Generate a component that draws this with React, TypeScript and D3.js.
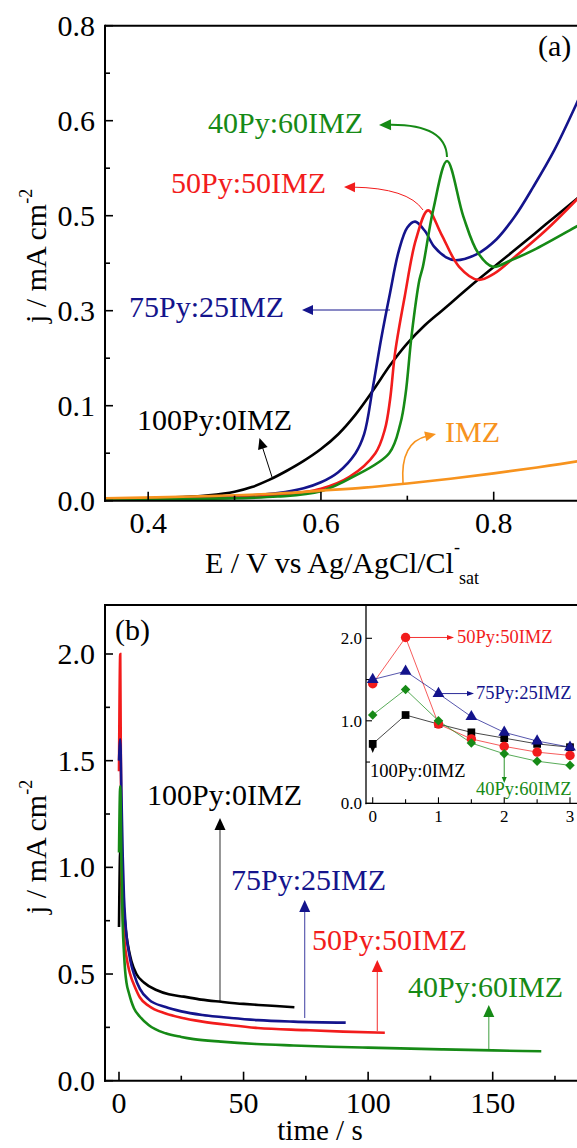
import React from 'react';
import * as d3 from 'd3';

const FONT = '"Liberation Serif", "Times New Roman", Times, serif';
const C_BLACK = '#000000';
const C_BLUE = '#14148c';
const C_RED = '#f21c1c';
const C_GREEN = '#168a16';
const C_ORANGE = '#f7931e';

// ---------- Panel (a): linear sweep ----------
const aXTicks = [0.4, 0.6, 0.8];
const aXTickLabels = ['0.4', '0.6', '0.8'];
const aXMinor = [0.5, 0.7, 0.9];
const aYTicks = [0, 0.16, 0.32, 0.48, 0.64, 0.8];
const aYTickLabels = ['0.0', '0.1', '0.3', '0.5', '0.6', '0.8'];
const aYMinor = [0.08, 0.24, 0.4, 0.56, 0.72];

const aPy100E = [0.35, 0.40, 0.44, 0.47, 0.50, 0.52, 0.54, 0.56, 0.58, 0.60, 0.62, 0.64, 0.66, 0.68, 0.70, 0.72, 0.74, 0.76, 0.78, 0.82, 0.86, 0.90, 0.95];
const aPy100J = [0.003, 0.004, 0.006, 0.009, 0.015, 0.023, 0.035, 0.05, 0.067, 0.087, 0.112, 0.145, 0.185, 0.228, 0.265, 0.295, 0.32, 0.345, 0.37, 0.417, 0.465, 0.513, 0.573];

const aPy75E = [0.35, 0.45, 0.50, 0.55, 0.58, 0.60, 0.62, 0.64, 0.65, 0.66, 0.67, 0.68, 0.69, 0.70, 0.709, 0.72, 0.731, 0.745, 0.756, 0.78, 0.803, 0.825, 0.846, 0.87, 0.896, 0.93];
const aPy75J = [0.002, 0.004, 0.007, 0.013, 0.021, 0.031, 0.048, 0.08, 0.112, 0.19, 0.275, 0.35, 0.42, 0.46, 0.47, 0.455, 0.428, 0.41, 0.405, 0.415, 0.44, 0.48, 0.529, 0.59, 0.669, 0.78];

const aPy50E = [0.35, 0.50, 0.55, 0.60, 0.633, 0.663, 0.674, 0.68, 0.686, 0.697, 0.71, 0.724, 0.739, 0.76, 0.782, 0.80, 0.824, 0.86, 0.896, 0.93];
const aPy50J = [0.003, 0.005, 0.009, 0.02, 0.04, 0.08, 0.12, 0.17, 0.251, 0.344, 0.44, 0.489, 0.45, 0.394, 0.372, 0.382, 0.41, 0.455, 0.507, 0.56];

const aPy40E = [0.35, 0.55, 0.60, 0.637, 0.679, 0.692, 0.698, 0.705, 0.714, 0.718, 0.73, 0.746, 0.765, 0.782, 0.799, 0.82, 0.846, 0.896, 0.93];
const aPy40J = [0.002, 0.007, 0.016, 0.04, 0.08, 0.13, 0.18, 0.279, 0.372, 0.394, 0.49, 0.572, 0.478, 0.417, 0.394, 0.405, 0.422, 0.462, 0.49];

const aImzE = [0.35, 0.45, 0.55, 0.60, 0.65, 0.70, 0.75, 0.80, 0.85, 0.90, 0.95];
const aImzJ = [0.004, 0.007, 0.012, 0.017, 0.022, 0.029, 0.037, 0.046, 0.056, 0.067, 0.08];

// ---------- Panel (b): chronoamperometry ----------
const bXTicks = [0, 50, 100, 150];
const bXMinor = [25, 75, 125, 175];
const bYTicks = [0, 0.5, 1.0, 1.5, 2.0];
const bYTickLabels = ['0.0', '0.5', '1.0', '1.5', '2.0'];
const bYMinor = [0.25, 0.75, 1.25, 1.75];

const bPy100T = [0, 0.5, 1, 1.5, 2, 2.5, 3, 4, 5, 7, 10, 15, 20, 26, 33, 41, 50, 56, 63, 70.4];
const bPy100J = [0.72, 1.08, 0.97, 0.87, 0.80, 0.73, 0.68, 0.61, 0.56, 0.5, 0.46, 0.425, 0.405, 0.394, 0.38, 0.37, 0.36, 0.355, 0.35, 0.344];

const bPy75T = [0, 0.5, 1, 1.5, 2, 2.5, 3, 4, 5, 6, 8.4, 12, 18.7, 25, 33.5, 45, 55.7, 70, 91];
const bPy75J = [1.5, 1.6, 1.33, 1.05, 0.86, 0.755, 0.68, 0.6, 0.54, 0.5, 0.43, 0.38, 0.345, 0.325, 0.308, 0.294, 0.284, 0.277, 0.272];

const bPy50T = [0, 0.5, 1, 1.5, 2, 2.5, 3, 4, 5, 6, 8.4, 12, 18.7, 25, 33.5, 45, 55.7, 75, 90, 106.7];
const bPy50J = [1.45, 2.0, 0.96, 0.78, 0.69, 0.62, 0.58, 0.52, 0.48, 0.45, 0.39, 0.35, 0.315, 0.295, 0.277, 0.26, 0.247, 0.237, 0.23, 0.225];

const bPy40T = [0, 0.5, 1, 1.5, 2, 2.5, 3, 4, 5, 6, 8.4, 12, 18.7, 25, 30, 40.9, 55, 70, 85, 100, 129.6, 150, 169.5];
const bPy40J = [1.07, 1.38, 1.0, 0.73, 0.6, 0.51, 0.46, 0.41, 0.37, 0.34, 0.3, 0.26, 0.222, 0.205, 0.195, 0.183, 0.172, 0.165, 0.159, 0.155, 0.147, 0.142, 0.138];

// ---------- Inset (first 3 s) ----------
const inT = [0, 0.5, 1, 1.5, 2, 2.5, 3];
const inPy100 = [0.72, 1.07, 0.96, 0.86, 0.79, 0.72, 0.68];
const inPy50 = [1.45, 2.01, 0.96, 0.78, 0.69, 0.62, 0.58];
const inPy75 = [1.5, 1.6, 1.33, 1.05, 0.86, 0.755, 0.68];
const inPy40 = [1.07, 1.38, 1.0, 0.73, 0.6, 0.51, 0.46];
const inXTicks = [0, 1, 2, 3];
const inXMinor = [0.5, 1.5, 2.5];
const inYTicks = [0, 1, 2];
const inYTickLabels = ['0.0', '1.0', '2.0'];
const inYMinor = [0.5, 1.5];

// ---------- Scales ----------
const xA = d3.scaleLinear().domain([0.35, 0.8]).range([105, 493.7]);
const yA = d3.scaleLinear().domain([0, 0.8]).range([500.7, 25.7]);
const xB = d3.scaleLinear().domain([0, 150]).range([119, 492.7]);
const yB = d3.scaleLinear().domain([0, 2]).range([1080.7, 654]);
const xI = d3.scaleLinear().domain([0, 3]).range([372.7, 570]);
const yI = d3.scaleLinear().domain([0, 2]).range([803.3, 638.3]);

function zip(xs: number[], ys: number[]): [number, number][] {
  return xs.map((x, i) => [x, ys[i]]);
}

function arrowHead(tx: number, ty: number, fx: number, fy: number, len: number, w: number) {
  const dx = tx - fx, dy = ty - fy;
  const d = Math.sqrt(dx * dx + dy * dy) || 1;
  const ux = dx / d, uy = dy / d;
  const bx = tx - ux * len, by = ty - uy * len;
  const nx = -uy, ny = ux;
  return `M${tx},${ty}L${bx + nx * w / 2},${by + ny * w / 2}L${bx - nx * w / 2},${by - ny * w / 2}Z`;
}

function Arrow({ x1, y1, x2, y2, cx, cy, color, sw, len, w, opacity }: any) {
  const hasCtrl = cx !== undefined;
  const fx = hasCtrl ? cx : x1, fy = hasCtrl ? cy : y1;
  const dx = x2 - fx, dy = y2 - fy;
  const d = Math.sqrt(dx * dx + dy * dy) || 1;
  const ex = x2 - (dx / d) * len * 0.8, ey = y2 - (dy / d) * len * 0.8;
  const p = hasCtrl ? `M${x1},${y1}Q${cx},${cy} ${ex},${ey}` : `M${x1},${y1}L${ex},${ey}`;
  return (
    <g>
      <path d={p} fill="none" stroke={color} strokeWidth={sw} opacity={opacity ?? 1} />
      <path d={arrowHead(x2, y2, fx, fy, len, w)} fill={color} />
    </g>
  );
}

export default function App() {
  const lineA = d3.line<[number, number]>().x(d => xA(d[0])).y(d => yA(d[1])).curve(d3.curveCatmullRom.alpha(0.5));
  const lineB = d3.line<[number, number]>().x(d => xB(d[0])).y(d => yB(d[1])).curve(d3.curveMonotoneX);
  const lineI = d3.line<[number, number]>().x(d => xI(d[0])).y(d => yI(d[1]));

  const aSeries = [
    { e: aPy100E, j: aPy100J, c: C_BLACK },
    { e: aPy75E, j: aPy75J, c: C_BLUE },
    { e: aPy50E, j: aPy50J, c: C_RED },
    { e: aPy40E, j: aPy40J, c: C_GREEN },
    { e: aImzE, j: aImzJ, c: C_ORANGE },
  ];
  const bSeries = [
    { t: bPy100T, j: bPy100J, c: C_BLACK },
    { t: bPy50T, j: bPy50J, c: C_RED },
    { t: bPy75T, j: bPy75J, c: C_BLUE },
    { t: bPy40T, j: bPy40J, c: C_GREEN },
  ];
  const inSeries = [
    { v: inPy100, c: C_BLACK, sym: d3.symbolSquare, size: 60, rot: 0 },
    { v: inPy50, c: C_RED, sym: d3.symbolCircle, size: 70, rot: 0 },
    { v: inPy75, c: C_BLUE, sym: d3.symbolTriangle, size: 60, rot: 0 },
    { v: inPy40, c: C_GREEN, sym: d3.symbolSquare, size: 45, rot: 45 },
  ];

  const aLeft = xA(0.35), aRight = 590, aTop = yA(0.8), aBot = yA(0);
  const bLeft = 105, bTop = 605, bBot = yB(0);
  const iLeft = 366, iBot = yI(0);

  return (
    <svg width={577} height={1148} style={{ position: 'absolute', left: 0, top: 0, background: '#fff' }}
      fontFamily={FONT}>
      <defs>
        <clipPath id="clipA"><rect x={aLeft} y={aTop} width={aRight - aLeft} height={aBot - aTop} /></clipPath>
        <clipPath id="clipB"><rect x={bLeft} y={bTop} width={aRight - bLeft} height={bBot - bTop} /></clipPath>
      </defs>
      <rect x={0} y={0} width={577} height={1148} fill="#fff" />

      {/* ================= Panel (a) ================= */}
      <g clipPath="url(#clipA)">
        {aSeries.map((s, i) => (
          <path key={i} d={lineA(zip(s.e, s.j)) || ''} fill="none" stroke={s.c} strokeWidth={2.6} />
        ))}
      </g>
      <line x1={aLeft} y1={aTop} x2={aRight} y2={aTop} stroke="#000" strokeWidth={2} />
      <line x1={aLeft} y1={aTop - 1} x2={aLeft} y2={aBot + 1} stroke="#000" strokeWidth={2} />
      <line x1={aLeft - 1} y1={aBot} x2={aRight} y2={aBot} stroke="#000" strokeWidth={2} />
      {aXTicks.map((v, i) => (
        <g key={'ax' + i}>
          <line x1={xA(v)} x2={xA(v)} y1={aBot} y2={aBot - 9} stroke="#000" strokeWidth={1.6} />
          <text x={xA(v)} y={533} fontSize={30} textAnchor="middle">{aXTickLabels[i]}</text>
        </g>
      ))}
      {aXMinor.map((v, i) => (
        <line key={'axm' + i} x1={xA(v)} x2={xA(v)} y1={aBot} y2={aBot - 5} stroke="#000" strokeWidth={1.6} />
      ))}
      {aYTicks.map((v, i) => (
        <g key={'ay' + i}>
          <line x1={aLeft} x2={aLeft + 8} y1={yA(v)} y2={yA(v)} stroke="#000" strokeWidth={1.6} />
          <text x={95} y={yA(v) + 10} fontSize={30} textAnchor="end">{aYTickLabels[i]}</text>
        </g>
      ))}
      {aYMinor.map((v, i) => (
        <line key={'aym' + i} x1={aLeft} x2={aLeft + 5} y1={yA(v)} y2={yA(v)} stroke="#000" strokeWidth={1.6} />
      ))}
      <text x={538} y={56} fontSize={30}>(a)</text>
      <text transform="translate(46,323) rotate(-90)" fontSize={30}>
        j / mA cm<tspan fontSize={18} dy={-14}>-2</tspan>
      </text>
      <text x={205} y={573} fontSize={30}>E / V vs Ag/AgCl/Cl</text>
      <text x={454} y={553} fontSize={18}>-</text>
      <text x={459} y={584} fontSize={18}>sat</text>

      {/* annotations (a) */}
      <text x={208} y={133} fontSize={30} fill={C_GREEN}>40Py:60IMZ</text>
      <Arrow x1={447} y1={157} cx={446} cy={124} x2={379} y2={125} color={C_GREEN} sw={2} len={12} w={11} />
      <text x={171} y={193} fontSize={30} fill={C_RED}>50Py:50IMZ</text>
      <Arrow x1={423} y1={210} cx={408} cy={188} x2={344} y2={187} color={C_RED} sw={1} len={11} w={10} />
      <text x={129} y={317} fontSize={30} fill={C_BLUE}>75Py:25IMZ</text>
      <Arrow x1={390} y1={310} x2={302} y2={310} color={C_BLUE} sw={1} len={11} w={10} />
      <text x={137} y={430} fontSize={30} fill={C_BLACK}>100Py:0IMZ</text>
      <Arrow x1={272} y1={477} x2={259.5} y2={438} color={C_BLACK} sw={1} len={11} w={10} />
      <text x={445} y={442} fontSize={30} fill={C_ORANGE}>IMZ</text>
      <Arrow x1={403} y1={483} cx={400} cy={442} x2={436} y2={434} color={C_ORANGE} sw={1.6} len={11} w={10} />

      {/* ================= Panel (b) ================= */}
      <g clipPath="url(#clipB)">
        {bSeries.map((s, i) => (
          <path key={i} d={lineB(zip(s.t, s.j)) || ''} fill="none" stroke={s.c} strokeWidth={2.6} />
        ))}
      </g>
      <line x1={bLeft} y1={bTop} x2={aRight} y2={bTop} stroke="#000" strokeWidth={2} />
      <line x1={bLeft} y1={bTop - 1} x2={bLeft} y2={bBot + 1} stroke="#000" strokeWidth={2} />
      <line x1={bLeft - 1} y1={bBot} x2={aRight} y2={bBot} stroke="#000" strokeWidth={2} />
      {bXTicks.map((v, i) => (
        <g key={'bx' + i}>
          <line x1={xB(v)} x2={xB(v)} y1={bBot} y2={bBot - 9} stroke="#000" strokeWidth={1.6} />
          <text x={xB(v)} y={1113} fontSize={30} textAnchor="middle">{String(v)}</text>
        </g>
      ))}
      {bXMinor.map((v, i) => (
        <line key={'bxm' + i} x1={xB(v)} x2={xB(v)} y1={bBot} y2={bBot - 5} stroke="#000" strokeWidth={1.6} />
      ))}
      {bYTicks.map((v, i) => (
        <g key={'by' + i}>
          <line x1={bLeft} x2={bLeft + 8} y1={yB(v)} y2={yB(v)} stroke="#000" strokeWidth={1.6} />
          <text x={95} y={yB(v) + 10} fontSize={30} textAnchor="end">{bYTickLabels[i]}</text>
        </g>
      ))}
      {bYMinor.map((v, i) => (
        <line key={'bym' + i} x1={bLeft} x2={bLeft + 5} y1={yB(v)} y2={yB(v)} stroke="#000" strokeWidth={1.6} />
      ))}
      <text x={115} y={640} fontSize={30}>(b)</text>
      <text transform="translate(46,914) rotate(-90)" fontSize={30}>
        j / mA cm<tspan fontSize={18} dy={-14}>-2</tspan>
      </text>
      <text x={320} y={1140} fontSize={29} textAnchor="middle">time / s</text>

      {/* annotations (b) */}
      <text x={147} y={805} fontSize={30} fill={C_BLACK}>100Py:0IMZ</text>
      <Arrow x1={220} y1={1001} x2={220} y2={818} color={C_BLACK} sw={1.1} len={12} w={11} opacity={0.75} />
      <text x={231} y={890} fontSize={30} fill={C_BLUE}>75Py:25IMZ</text>
      <Arrow x1={304.7} y1={1018} x2={304.7} y2={900} color={C_BLUE} sw={1.1} len={12} w={11} opacity={0.75} />
      <text x={312} y={950} fontSize={30} fill={C_RED}>50Py:50IMZ</text>
      <Arrow x1={377.3} y1={1031} x2={377.3} y2={960} color={C_RED} sw={1.1} len={12} w={11} opacity={0.85} />
      <text x={408} y={997} fontSize={30} fill={C_GREEN}>40Py:60IMZ</text>
      <Arrow x1={488.8} y1={1049} x2={488.8} y2={1005} color={C_GREEN} sw={1.1} len={12} w={11} opacity={0.75} />

      {/* ================= Inset ================= */}
      <line x1={iLeft} y1={bTop} x2={iLeft} y2={iBot + 1} stroke="#000" strokeWidth={1.3} />
      <line x1={iLeft - 0.5} y1={iBot} x2={aRight} y2={iBot} stroke="#000" strokeWidth={1.3} />
      {inXTicks.map((v, i) => (
        <g key={'ix' + i}>
          <line x1={xI(v)} x2={xI(v)} y1={iBot} y2={iBot - 6} stroke="#000" strokeWidth={1.1} />
          <text x={xI(v)} y={822} fontSize={17} textAnchor="middle">{String(v)}</text>
        </g>
      ))}
      {inXMinor.map((v, i) => (
        <line key={'ixm' + i} x1={xI(v)} x2={xI(v)} y1={iBot} y2={iBot - 4} stroke="#000" strokeWidth={1.1} />
      ))}
      {inYTicks.map((v, i) => (
        <g key={'iy' + i}>
          <line x1={iLeft} x2={iLeft + 6} y1={yI(v)} y2={yI(v)} stroke="#000" strokeWidth={1.1} />
          <text x={362} y={yI(v) + 6} fontSize={17} textAnchor="end">{inYTickLabels[i]}</text>
        </g>
      ))}
      {inYMinor.map((v, i) => (
        <line key={'iym' + i} x1={iLeft} x2={iLeft + 4} y1={yI(v)} y2={yI(v)} stroke="#000" strokeWidth={1.1} />
      ))}
      {inSeries.map((s, i) => (
        <path key={'il' + i} d={lineI(zip(inT, s.v)) || ''} fill="none" stroke={s.c} strokeWidth={0.9} opacity={0.8} />
      ))}
      {inSeries.map((s, i) => (
        <g key={'im' + i}>
          {inT.map((t, k) => (
            <path key={k} transform={`translate(${xI(t)},${yI(s.v[k])}) rotate(${s.rot})`}
              d={d3.symbol().type(s.sym).size(s.size)() || ''} fill={s.c} />
          ))}
        </g>
      ))}
      <Arrow x1={xI(0.5)} y1={yI(2.01)} x2={454} y2={yI(2.01)} color={C_RED} sw={0.9} len={7} w={5} />
      <text x={457} y={643} fontSize={18.5} fill={C_RED}>50Py:50IMZ</text>
      <Arrow x1={xI(1)} y1={yI(1.33)} x2={474} y2={yI(1.33)} color={C_BLUE} sw={0.9} len={7} w={5} />
      <text x={476} y={699} fontSize={18.5} fill={C_BLUE}>75Py:25IMZ</text>
      <Arrow x1={xI(0)} y1={yI(0.72)} x2={xI(0)} y2={753} color={C_BLACK} sw={0.9} len={6} w={5} />
      <text x={370} y={777} fontSize={18.5} fill={C_BLACK}>100Py:0IMZ</text>
      <Arrow x1={xI(2)} y1={yI(0.6)} x2={xI(2)} y2={783} color={C_GREEN} sw={0.9} len={6} w={5} />
      <text x={476} y={795} fontSize={18.5} fill={C_GREEN}>40Py:60IMZ</text>
    </svg>
  );
}
